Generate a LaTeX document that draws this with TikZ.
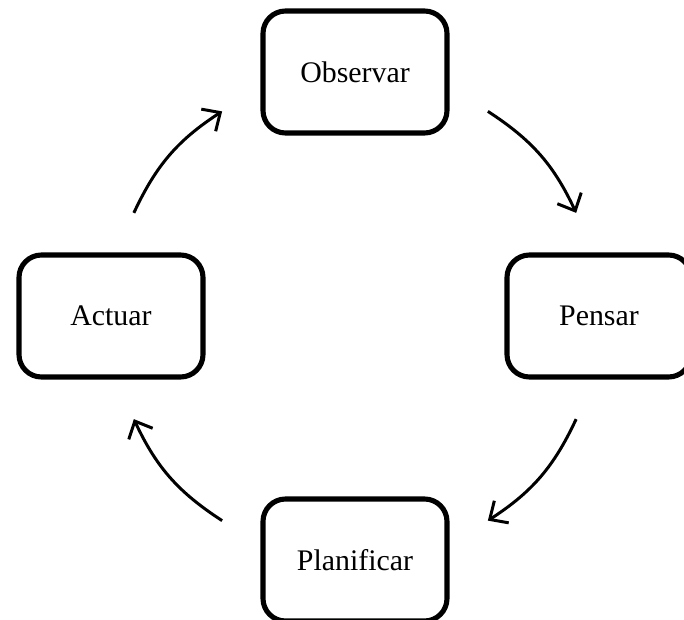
\documentclass[tikz,border=0pt]{standalone}
\usepackage{fontspec}
\setmainfont{Liberation Serif}
\usepackage{tikz}
\usetikzlibrary{arrows.meta,positioning}

\begin{document}
\begin{tikzpicture}[
    box/.style={rectangle, draw, rounded corners=0.45cm, line width=2.9pt, minimum width=3.68cm, minimum height=2.44cm, align=center, font=\fontsize{17}{20}\selectfont},
    arrow/.style={-{Straight Barb[length=8pt,width=15pt]}, line width=1.7pt}
]
\useasboundingbox (-7.1,-6.06) rectangle (6.58,6.32);
\def\rad{4.88}
\node[box] (observar) at (90:\rad) {Observar};
\node[box] (pensar) at (0:\rad) {Pensar};
\node[box] (planificar) at (-90:\rad) {Planificar};
\node[box] (actuar) at (180:\rad) {Actuar};

% arc ends on the same circle as the boxes
\coordinate (obs-out) at (57:\rad);
\coordinate (pen-in) at (25:\rad);
\coordinate (pen-out) at (-25:\rad);
\coordinate (pla-in) at (-57:\rad);
\coordinate (pla-out) at (-123:\rad);
\coordinate (act-in) at (-155:\rad);
\coordinate (act-out) at (155:\rad);
\coordinate (obs-in) at (123:\rad);

\draw[arrow] (obs-out) to[bend left=16] (pen-in);
\draw[arrow] (pen-out) to[bend left=16] (pla-in);
\draw[arrow] (pla-out) to[bend left=16] (act-in);
\draw[arrow] (act-out) to[bend left=16] (obs-in);
\end{tikzpicture}
\end{document}
